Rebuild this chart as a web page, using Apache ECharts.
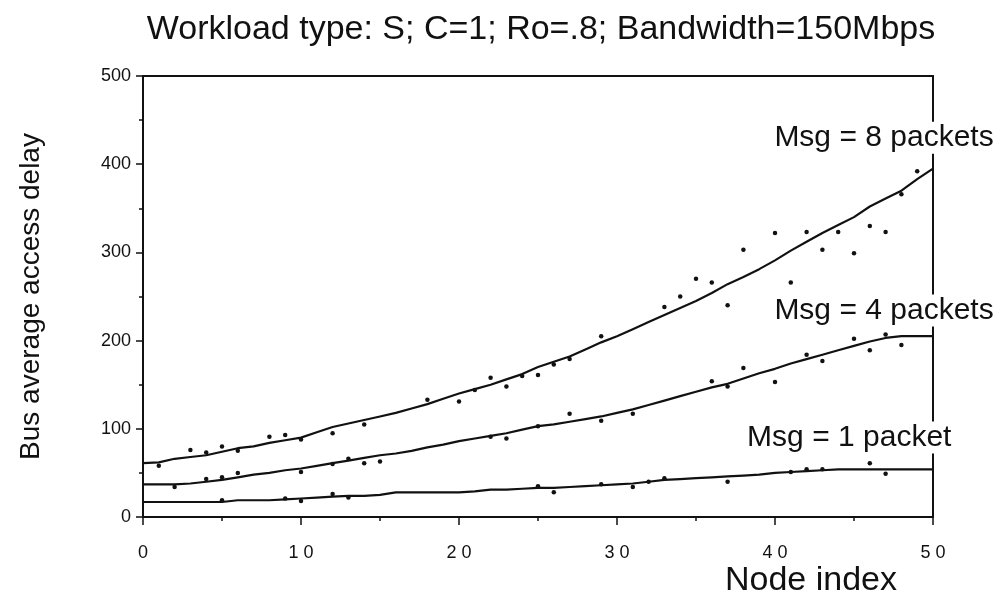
<!DOCTYPE html>
<html><head><meta charset="utf-8">
<script src="https://cdn.jsdelivr.net/npm/echarts@6/dist/echarts.min.js"></script>
<style>html,body{margin:0;padding:0;background:#fff}#c{width:1000px;height:605px}</style>
</head><body><div id="c"></div>
<script>
const titleText = 'Workload type: S; C=1; Ro=.8; Bandwidth=150Mbps';
const xName = 'Node index';
const yName = 'Bus average access delay';
const xTicks = [0, 10, 20, 30, 40, 50];
const yTicks = [0, 100, 200, 300, 400, 500];
const nodes = Array.from({length: 51}, (_, i) => i);

const msg8Line = [61,62,66,68,70,74,78,80,84,87,90,96,102,106,110,114,118,123,128,134,140,145,150,156,162,170,176,182,190,198,205,213,221,229,237,245,254,264,272,281,291,302,312,322,331,340,352,361,370,383,395];
const msg4Line = [37,37,37,38,40,42,45,48,50,53,55,58,61,64,67,70,72,75,79,82,86,89,92,95,99,103,105,108,111,114,118,122,127,132,137,142,147,151,157,163,168,174,179,184,189,194,199,203,205,205,205];
const msg1Line = [17,17,17,17,17,17,19,19,19,20,21,22,23,24,24,25,28,28,28,28,28,29,31,31,32,33,33,34,35,36,37,38,40,42,43,44,45,46,47,48,50,51,52,53,54,54,54,54,54,54,54];

const msg8Sim = [[1,58],[3,76],[4,73],[5,80],[6,75],[8,91],[9,93],[10,88],[12,95],[14,105],[18,133],[20,131],[21,144],[22,158],[23,148],[24,160],[25,161],[26,173],[27,179],[29,205],[33,238],[34,250],[35,270],[36,266],[37,240],[38,303],[40,322],[41,266],[42,323],[43,303],[44,323],[45,299],[46,330],[47,323],[48,366],[49,392]];
const msg4Sim = [[2,34],[4,43],[5,45],[6,50],[10,51],[12,60],[13,66],[14,61],[15,63],[22,91],[23,89],[25,103],[27,117],[29,109],[31,117],[36,154],[37,148],[38,169],[40,153],[42,184],[43,177],[45,202],[46,189],[47,207],[48,195]];
const msg1Sim = [[5,19],[9,21],[10,18],[12,26],[13,22],[25,35],[26,28],[29,37],[31,34],[32,40],[33,44],[37,40],[41,51],[42,54],[43,54],[46,61],[47,49]];

const seriesNames = ['Msg = 8 packets', 'Msg = 4 packets', 'Msg = 1 packet'];
const labelAnchors = [[46.9, 430], [46.9, 234], [44.7, 90]];

const chart = echarts.init(document.getElementById('c'));
const font = 'Liberation Sans, Arial, sans-serif';
const lineSeries = [msg8Line, msg4Line, msg1Line].map((vals, k) => ({
  type: 'line', name: seriesNames[k], data: nodes.map((n, i) => [n, vals[i]]),
  showSymbol: false, symbol: 'none', lineStyle: {color: '#111', width: 2.2}, z: 3, animation: false
}));
const simSeries = [msg8Sim, msg4Sim, msg1Sim].map((pts) => ({
  type: 'scatter', data: pts, symbol: 'circle', symbolSize: 4.5,
  itemStyle: {color: '#111', opacity: 1}, z: 4, animation: false
}));
const labelSeries = {
  type: 'scatter', data: labelAnchors.map((p, k) => ({value: p, name: seriesNames[k]})),
  symbolSize: 0, z: 10, animation: false, silent: true,
  itemStyle: {opacity: 1, color: '#111'},
  label: {show: true, position: 'inside', formatter: p => p.name, color: '#111', opacity: 1, fontFamily: font,
    fontSize: 30, backgroundColor: '#fff', padding: [1, 3]}
};

chart.setOption({
  backgroundColor: '#fff',
  animation: false,
  title: {text: titleText, left: 536, top: 8, textAlign: 'center',
    textStyle: {fontFamily: font, fontSize: 34, fontWeight: 'normal', color: '#111'}},
  grid: {left: 143, right: 67, top: 76, bottom: 88},
  xAxis: [{
    type: 'value', min: 0, max: 50, interval: 10,
    name: xName, nameLocation: 'end', nameGap: 0,
    nameTextStyle: {fontFamily: font, fontSize: 34, color: '#111', align: 'right', verticalAlign: 'top', padding: [47, 36, 0, 0]},
    axisLine: {show: true, lineStyle: {color: '#111', width: 2}},
    axisTick: {show: true, length: 8, inside: false, lineStyle: {color: '#111', width: 1.5}},
    minorTick: {show: true, splitNumber: 2, length: 4, lineStyle: {color: '#111', width: 1.5}},
    splitLine: {show: false},
    axisLabel: {margin: 27, fontFamily: font, fontSize: 18, color: '#111',
      formatter: v => xTicks.includes(v) ? String(v).split('').join(' ') : ''}
  }, {
    type: 'value', position: 'top', min: 0, max: 50,
    axisLine: {show: true, onZero: false, lineStyle: {color: '#111', width: 2}},
    axisTick: {show: false}, axisLabel: {show: false}, splitLine: {show: false}
  }],
  yAxis: [{
    type: 'value', min: 0, max: 500, interval: 100,
    name: yName, nameLocation: 'middle', nameGap: 98,
    nameTextStyle: {fontFamily: font, fontSize: 28, color: '#111'},
    axisLine: {show: true, lineStyle: {color: '#111', width: 2}},
    axisTick: {show: true, length: 7, lineStyle: {color: '#111', width: 1.5}},
    minorTick: {show: true, splitNumber: 2, length: 4, lineStyle: {color: '#111', width: 1.5}},
    splitLine: {show: false},
    axisLabel: {margin: 12, fontFamily: font, fontSize: 18, color: '#111',
      formatter: v => yTicks.includes(v) ? String(v) : ''}
  }, {
    type: 'value', position: 'right', min: 0, max: 500,
    axisLine: {show: true, onZero: false, lineStyle: {color: '#111', width: 2}},
    axisTick: {show: false}, axisLabel: {show: false}, splitLine: {show: false}
  }],
  series: [...lineSeries, ...simSeries, labelSeries]
});
</script></body></html>
